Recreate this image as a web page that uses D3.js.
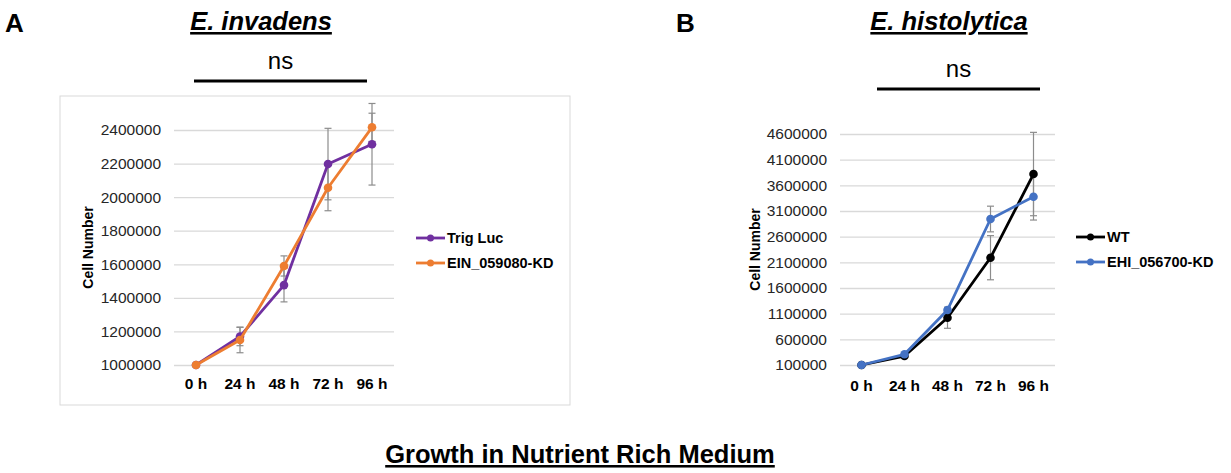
<!DOCTYPE html>
<html>
<head>
<meta charset="utf-8">
<script src="https://cdn.jsdelivr.net/npm/d3@7"></script>
<style>
  body { margin: 0; background: #fff; }
  svg { font-family: "Liberation Sans", Arial, sans-serif; }
</style>
</head>
<body>
<div class="fig"></div>
<script>
// time points shared by both panels
const timePoints = ["0 h", "24 h", "48 h", "72 h", "96 h"];

// panel A - E. invadens
const trigLuc = [1000000, 1170000, 1476000, 2197000, 2315000];
const trigLucErr = [0, 55000, 100000, 213000, 243000];
const einKD = [1000000, 1149000, 1590000, 2056000, 2416000];
const einKDErr = [0, 76000, 60000, 137000, 84000];
const ticksA = [1000000, 1200000, 1400000, 1600000, 1800000, 2000000, 2200000, 2400000];

// panel B - E. histolytica
const wt = [100000, 275000, 1021000, 2190000, 3820000];
const wtErr = [0, 30000, 206000, 430000, 812000];
const ehiKD = [100000, 308000, 1171000, 2944000, 3379000];
const ehiKDErr = [0, 30000, 40000, 250000, 455000];
const ticksB = [100000, 600000, 1100000, 1600000, 2100000, 2600000, 3100000, 3600000, 4100000, 4600000];

const W = 1231, H = 473;
const svg = d3.select(".fig").append("svg").attr("width", W).attr("height", H);

function panel(opts) {
  const g = svg.append("g");
  if (opts.box) {
    g.append("rect")
      .attr("x", opts.box[0]).attr("y", opts.box[1])
      .attr("width", opts.box[2]).attr("height", opts.box[3])
      .attr("fill", "none").attr("stroke", "#d9d9d9").attr("stroke-width", 1);
  }
  const x = d3.scaleBand().domain(timePoints).range([opts.x0, opts.x1]);
  const y = d3.scaleLinear().domain([opts.ticks[0], opts.ticks[opts.ticks.length - 1]])
    .range([opts.yb, opts.yt]);
  const cx = (t) => x(t) + x.bandwidth() / 2;

  // gridlines + y labels
  const yAxis = g.append("g").attr("transform", `translate(${opts.x0},0)`)
    .call(d3.axisLeft(y).tickValues(opts.ticks).tickFormat(d3.format("d"))
      .tickSize(-(opts.x1 - opts.x0)).tickPadding(13));
  yAxis.select(".domain").remove();
  yAxis.selectAll(".tick line").attr("stroke", "#d9d9d9").attr("stroke-width", 1.3);
  yAxis.selectAll(".tick text").attr("fill", "#262626").style("font-size", "15.5px");

  // x labels
  const xAxis = g.append("g").attr("transform", `translate(0,${opts.yb})`)
    .call(d3.axisBottom(x).tickSize(0).tickPadding(opts.xPad));
  xAxis.select(".domain").remove();
  xAxis.selectAll(".tick text").attr("fill", "#000")
    .style("font-size", "15.5px").style("font-weight", "bold");

  // y title
  g.append("text")
    .attr("transform", `translate(${opts.ytX},${(opts.yt + opts.yb) / 2}) rotate(-90)`)
    .attr("text-anchor", "middle").style("font-size", "14px").style("font-weight", "bold")
    .text("Cell Number");

  // error bars
  opts.series.forEach((s) => {
    s.values.forEach((v, i) => {
      const e = s.err[i];
      if (!e) return;
      const xx = cx(timePoints[i]);
      const eg = g.append("g").attr("stroke", "#8c8c8c").attr("stroke-width", 1.2);
      eg.append("line").attr("x1", xx).attr("x2", xx).attr("y1", y(v - e)).attr("y2", y(v + e));
      eg.append("line").attr("x1", xx - 3.5).attr("x2", xx + 3.5).attr("y1", y(v - e)).attr("y2", y(v - e));
      eg.append("line").attr("x1", xx - 3.5).attr("x2", xx + 3.5).attr("y1", y(v + e)).attr("y2", y(v + e));
    });
  });

  // lines
  opts.series.forEach((s) => {
    g.append("path")
      .datum(s.values)
      .attr("fill", "none").attr("stroke", s.color).attr("stroke-width", 2.8)
      .attr("stroke-linejoin", "round")
      .attr("d", d3.line().x((d, i) => cx(timePoints[i])).y((d) => y(d)));
    g.selectAll(null).data(s.values).join("circle")
      .attr("cx", (d, i) => cx(timePoints[i])).attr("cy", (d) => y(d))
      .attr("r", 4.3).attr("fill", s.color);
  });

  // legend
  opts.series.forEach((s, i) => {
    const ly = opts.legY + i * 25;
    const lg = g.append("g").attr("transform", `translate(${opts.legX},${ly})`);
    lg.append("line").attr("x1", 0).attr("x2", 29).attr("stroke", s.color).attr("stroke-width", 2.8);
    lg.append("circle").attr("cx", 14.5).attr("r", 3.5).attr("fill", s.color);
    lg.append("text").attr("x", 31).attr("dy", "0.36em")
      .style("font-size", "14.5px").style("font-weight", "bold").text(s.name);
  });

  // panel letter, title, ns bar
  svg.append("text").attr("x", opts.letterX).attr("y", 32)
    .style("font-size", "26px").style("font-weight", "bold").text(opts.letter);
  svg.append("text").attr("x", opts.titleX).attr("y", 30).attr("text-anchor", "middle")
    .style("font-size", "25.5px").style("font-weight", "bold").style("font-style", "italic")
    .style("text-decoration", "underline").text(opts.title);
  svg.append("text").attr("x", (opts.ns[0] + opts.ns[1]) / 2).attr("y", opts.ns[2] - 12)
    .attr("text-anchor", "middle").style("font-size", "24px").text("ns");
  svg.append("line").attr("x1", opts.ns[0]).attr("x2", opts.ns[1])
    .attr("y1", opts.ns[2]).attr("y2", opts.ns[2]).attr("stroke", "#000").attr("stroke-width", 3);
}

panel({
  box: [60, 96, 510, 309],
  x0: 174, x1: 394, yt: 130, yb: 365, ytX: 93, xPad: 13,
  ticks: ticksA,
  series: [
    { name: "Trig Luc", values: trigLuc, err: trigLucErr, color: "#7030a0" },
    { name: "EIN_059080-KD", values: einKD, err: einKDErr, color: "#ed7d31" },
  ],
  legX: 416, legY: 238,
  letter: "A", letterX: 5, title: "E. invadens", titleX: 261,
  ns: [194, 367, 81],
});

panel({
  x0: 840, x1: 1055, yt: 134, yb: 365, ytX: 760, xPad: 15,
  ticks: ticksB,
  series: [
    { name: "WT", values: wt, err: wtErr, color: "#000000" },
    { name: "EHI_056700-KD", values: ehiKD, err: ehiKDErr, color: "#4472c4" },
  ],
  legX: 1076, legY: 237,
  letter: "B", letterX: 676, title: "E. histolytica", titleX: 949,
  ns: [877, 1040, 89],
});

// figure caption
svg.append("text").attr("x", 580).attr("y", 463).attr("text-anchor", "middle")
  .style("font-size", "25.5px").style("font-weight", "bold").style("text-decoration", "underline")
  .text("Growth in Nutrient Rich Medium");
</script>
</body>
</html>
